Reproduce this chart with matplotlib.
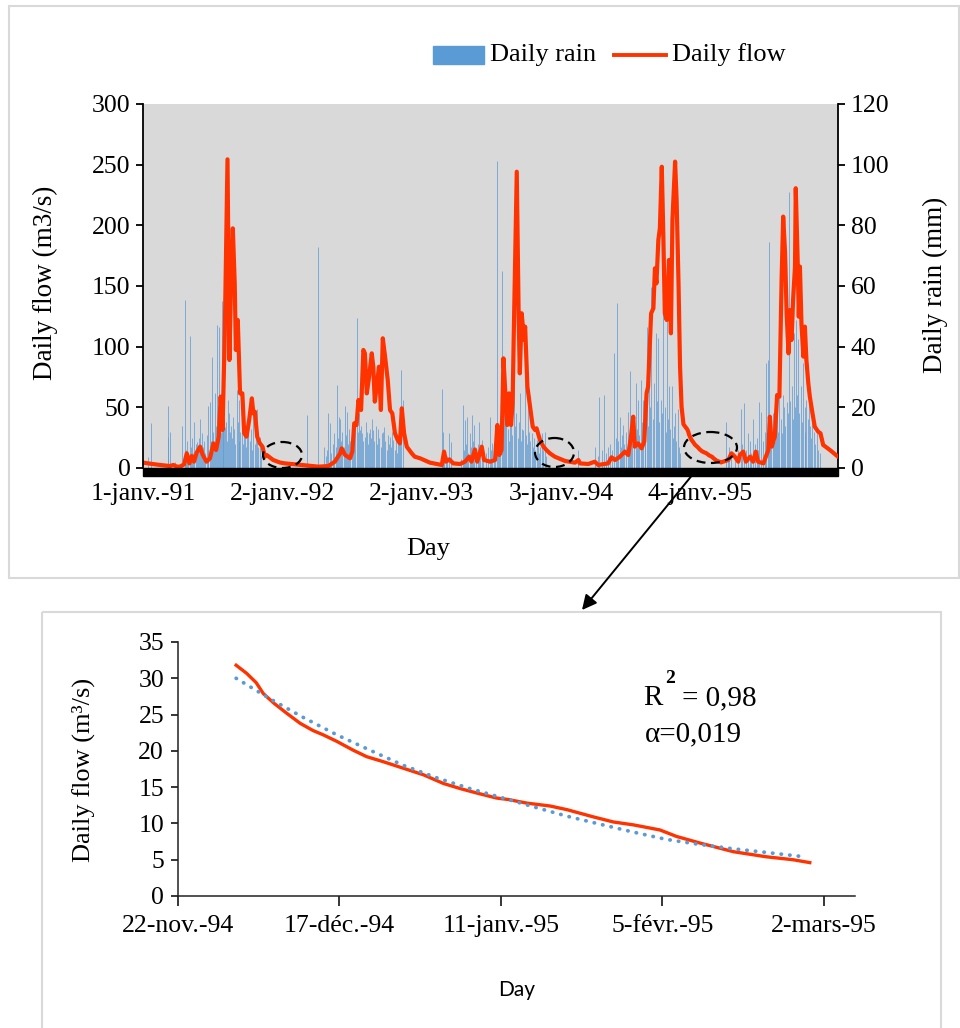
import matplotlib
matplotlib.use('Agg')
import matplotlib.pyplot as plt
from matplotlib.patches import Rectangle, Ellipse, FancyArrowPatch
from matplotlib.lines import Line2D
import matplotlib.transforms as mtransforms

# ---------------- data (top panel) ----------------
# day index counted from 1-janv.-91
flow_days_a = [0, 20, 45, 71, 80, 88, 97, 108, 115, 122, 128, 134, 141, 150, 157, 167, 176, 185, 192, 199,
               204, 209, 215, 222, 227, 231, 236, 241, 244, 249, 255, 261, 266, 272, 279, 286, 290, 294, 300,
               307, 314, 320, 325, 342, 360, 373, 417, 461, 487, 504, 518, 522, 531, 544, 550, 555, 561, 566,
               573, 579, 583, 588, 594, 601, 605, 609, 615, 620, 625, 630, 636, 643, 649, 655, 662, 669, 675,
               680, 686, 693, 706, 714, 728, 754, 785, 791, 796, 805, 815, 833, 846, 857, 863, 872, 878, 890,
               896, 912, 925, 931, 936, 942, 947, 953, 957, 962, 967, 971, 975, 982, 987, 990, 995, 1001, 1004,
               1010, 1017, 1024, 1030, 1034, 1043, 1052, 1060, 1069, 1082, 1109, 1135, 1144, 1148, 1170, 1187,
               1196, 1222, 1231, 1240, 1253, 1266, 1275, 1282, 1288, 1292, 1301, 1310, 1317, 1323, 1327, 1335,
               1341, 1345, 1349, 1354, 1358, 1363, 1367, 1371, 1376, 1382, 1387, 1391, 1398, 1402, 1407, 1411,
               1415, 1420]
flow_vals_a = [4.4, 3.5, 2.5, 1.6, 2.5, 1.2, 1.1, 3.0, 12.1, 3.8, 9.9, 5.2, 12.6, 17.6, 10.7, 5.2, 8.0, 20.3, 14.8, 25.8,
               58.8, 31.3, 113.7, 254.4, 89.0, 149.4, 197.5, 152.2, 97.3, 122.0, 61.5, 61.5, 28.6, 25.8, 39.6, 57.4, 45.0, 46.4, 25.8,
               20.3, 17.6, 9.3, 10.7, 6.6, 4.5, 3.8, 2.5, 1.1, 1.6, 5.2, 12.1, 16.2, 10.7, 8.0, 13.5, 36.8, 35.4, 56.0,
               47.8, 97.3, 94.5, 61.5, 75.2, 94.5, 83.5, 54.7, 69.8, 83.5, 47.8, 106.9, 91.8, 72.5, 47.8, 45.0, 28.6, 23.1, 20.3,
               49.2, 28.6, 17.6, 12.1, 9.3, 8.0, 4.4, 2.5, 13.5, 5.2, 7.1, 3.8, 3.3, 5.2, 9.3, 5.2, 15.3, 5.2, 17.6,
               6.6, 5.2, 6.6, 35.4, 10.7, 14.8, 90.4, 56.0, 35.4, 61.5, 35.4, 53.3, 124.7, 244.2, 124.7, 78.0, 127.5, 105.5, 116.5,
               67.0, 50.5, 34.0, 31.3, 32.7, 23.1, 17.6, 14.8, 12.1, 9.3, 5.8, 4.4, 6.6, 3.8, 3.3, 5.2,
               2.5, 3.8, 8.8, 6.6, 9.3, 13.5, 10.7, 25.8, 42.3, 17.6, 20.3, 16.2, 21.7, 61.5, 67.0, 127.5,
               131.6, 164.6, 152.2, 188.0, 197.5, 248.3, 193.3, 127.5, 122.0, 171.5, 111.0, 204.4, 252.5, 220.9, 152.2, 83.5,
               50.5, 36.0]
flow_days_b = [1524, 1538, 1546, 1555, 1564, 1568, 1577, 1584, 1595, 1603, 1610, 1616, 1630, 1643, 1647, 1652, 1660,
               1666, 1672, 1678, 1682, 1687, 1691, 1696, 1700, 1704, 1708, 1713, 1715, 1720, 1723, 1726, 1730, 1735,
               1739, 1743, 1748, 1752, 1759, 1765, 1774, 1780, 1787, 1805, 1826]
flow_vals_b = [5.2, 6.6, 12.1, 9.3, 5.2, 10.7, 13.5, 5.2, 9.3, 5.2, 13.5, 5.2, 3.8, 14.8, 42.3, 17.6, 25.8,
               60.1, 58.8, 157.7, 207.2, 177.0, 127.5, 94.5, 130.2, 105.5, 138.5, 166.0, 230.6, 171.5, 124.7, 166.0, 119.2, 91.8,
               116.5, 89.0, 69.8, 58.8, 45.0, 34.0, 29.9, 28.6, 19.0, 14.8, 9.3]

rain_days = [14, 21, 65, 66, 71, 84, 103, 111, 123, 128, 135, 141, 150, 155, 172, 176, 182, 189, 195, 199, 207, 211,
             215, 224, 237, 246, 253, 259, 268, 277, 290, 300, 307,
             113, 116, 119, 125, 131, 138, 144, 147, 153, 158, 161, 164, 167, 170, 179, 185, 187, 192, 197, 202, 205,
             209, 213, 218, 221, 226, 229, 232, 235, 240, 243, 249, 251, 256, 262, 265, 271, 274, 280, 283, 287, 293,
             296, 303, 310,
             430, 461, 476, 487, 491, 503, 510, 515, 518, 530, 535, 548, 561, 570, 576, 583, 594, 605, 618, 627, 634,
             649, 658, 673, 678, 682,
             480, 484, 495, 499, 506, 512, 521, 524, 527, 533, 538, 541, 544, 551, 554, 557, 564, 567, 573, 579, 586,
             589, 591, 597, 600, 602, 608, 611, 614, 621, 624, 630, 637, 640, 643, 646, 652, 655, 661, 664, 667, 670, 676,
             786, 787, 805, 810, 841, 846, 852, 859, 865, 870, 882, 890, 911, 918, 929, 942, 951, 955, 964, 974, 981,
             990, 999, 1003, 1012, 1021, 1034, 1047, 1056,
             790, 795, 800, 836, 844, 849, 855, 862, 868, 875, 879, 886, 894, 900, 906, 915, 922, 926, 933, 936, 939,
             945, 948, 958, 961, 967, 970, 977, 984, 987, 993, 996, 1006, 1009, 1015, 1018, 1025, 1028, 1031, 1038,
             1041, 1044, 1051, 1060,
             1144, 1187, 1199, 1212, 1222, 1238, 1246, 1253, 1262, 1273, 1280, 1286, 1294, 1301, 1308, 1314, 1323,
             1329, 1336, 1343, 1347, 1354, 1361, 1367, 1376, 1382, 1389, 1398, 1405,
             1195, 1205, 1216, 1228, 1233, 1242, 1249, 1256, 1259, 1265, 1269, 1276, 1283, 1290, 1297, 1304, 1311,
             1318, 1320, 1326, 1332, 1339, 1350, 1357, 1364, 1371, 1373, 1379, 1385, 1392, 1395, 1401, 1408, 1412,
             1533, 1540, 1570, 1580, 1590, 1603, 1619, 1625, 1637, 1641, 1645, 1654, 1663, 1672, 1678, 1682, 1691,
             1698, 1704, 1710, 1715, 1721, 1728, 1735, 1743, 1750, 1759, 1770, 1778,
             1536, 1545, 1555, 1562, 1575, 1585, 1595, 1598, 1608, 1612, 1615, 1630, 1633, 1648, 1651, 1657, 1660,
             1666, 1669, 1675, 1685, 1688, 1694, 1701, 1707, 1712, 1718, 1724, 1731, 1738, 1740, 1746, 1753, 1756,
             1762, 1765, 1773]
rain_mm = [3.7, 14.7, 20.4, 10.3, 11.9, 2.0, 13.8, 55.4, 43.6, 9.8, 15.2, 8.7, 16.0, 11.4, 20.4, 21.9, 36.5, 24.6, 47.3,
           46.6, 55.1, 23.5, 13.6, 22.4, 16.9, 25.7, 22.4, 18.5, 10.3, 11.4, 19.1, 19.6, 10.3,
           6, 9, 4, 7, 5, 8, 6, 10, 4, 7, 9, 5, 11, 6, 9, 12, 8, 14, 10, 18, 12,
           16, 20, 15, 9, 18, 12, 14, 10, 13, 8, 15, 9, 12, 8, 14, 7, 10, 9, 13, 6, 8,
           11, 7, 4,
           17.4, 73.0, 7.0, 18.0, 14.7, 11.4, 27.3, 16.9, 16.3, 20.4, 18.5, 11.4, 49.3, 12.5, 11.4, 10.3, 11.4, 12.5,
           13.0, 11.4, 13.6, 10.3, 9.2, 15.8, 32.3, 22.4,
           4, 6, 5, 8, 7, 10, 9, 12, 7, 11, 8, 13, 9, 14, 10, 16, 12, 18, 14, 9, 15,
           12, 8, 13, 10, 16, 9, 14, 8, 10, 7, 12, 9, 6, 11, 8, 7, 12, 6, 9, 5, 8, 10,
           25.9, 11.9, 11.4, 8.7, 20.8, 15.8, 16.9, 11.4, 17.4, 14.1, 15.2, 9.2, 16.9, 8.1, 101.2, 65.0, 15.8, 20.2,
           22.4, 31.2, 18.0, 24.6, 12.5, 31.8, 22.4, 11.4, 9.2, 11.4, 11.9,
           5, 3, 4, 3, 6, 8, 5, 7, 9, 5, 8, 6, 4, 5, 7, 6, 5, 9, 14, 10, 17,
           12, 19, 13, 9, 16, 11, 14, 10, 15, 9, 13, 11, 8, 12, 9, 7, 10, 6, 8,
           5, 7, 6, 4,
           5.9, 7.0, 23.5, 24.1, 7.0, 37.8, 54.5, 16.9, 14.1, 18.5, 32.0, 13.6, 28.0, 22.4, 29.1, 22.4, 46.6,
           33.4, 59.8, 28.0, 44.4, 42.8, 22.4, 53.7, 51.0, 26.9, 26.9, 18.0, 19.6,
           4, 6, 5, 8, 6, 10, 9, 7, 11, 8, 12, 9, 14, 10, 13, 11, 15,
           12, 18, 14, 20, 16, 22, 15, 18, 20, 12, 16, 13, 10, 14, 9, 7, 5,
           15.2, 7.0, 19.6, 21.5, 11.4, 16.3, 21.9, 18.5, 34.5, 35.6, 74.6, 18.0, 21.3, 52.6, 11.4, 24.1, 21.9,
           91.1, 26.9, 44.4, 48.8, 42.4, 26.9, 34.5, 22.4, 27.4, 19.6, 11.4, 4.8,
           4, 5, 3, 6, 8, 6, 9, 5, 8, 10, 6, 9, 12, 15, 10, 14, 9,
           18, 12, 16, 20, 14, 18, 22, 16, 20, 24, 18, 15, 20, 12, 16, 14, 10,
           12, 8, 6]

top_tick_days = [0, 366, 732, 1098, 1464]
top_tick_labels = ['1-janv.-91', '2-janv.-92', '2-janv.-93', '3-janv.-94', '4-janv.-95']

# ---------------- data (bottom panel: recession) ----------------
# days counted from 22-nov.-94 (day 1421 of the top series)
rec_start = 1421
rec_days = [9.0, 10.6, 12.1, 13.2, 14.8, 16.8, 18.9, 20.9, 22.5, 24.6, 27.1, 29.2, 31.8, 34.9, 38.0, 41.1, 43.7,
            46.2, 49.3, 51.1, 54.0, 57.6, 60.2, 64.3, 67.4, 70.5, 74.6, 77.2, 80.8, 86.0, 91.1, 95.2, 97.8]
rec_flow = [31.8, 30.7, 29.4, 27.9, 26.6, 25.2, 23.8, 22.8, 22.2, 21.3, 20.1, 19.2, 18.5, 17.6, 16.7, 15.5, 14.8,
            14.2, 13.5, 13.3, 12.8, 12.4, 11.9, 10.9, 10.2, 9.8, 9.1, 8.2, 7.3, 6.1, 5.4, 5.0, 4.6]
fit_days = [9.0, 14.2, 19.4, 24.6, 29.7, 34.9, 40.0, 45.2, 51.1, 55.0, 60.2, 65.3, 70.5, 75.6, 80.8, 86.0, 91.1, 97.0]
fit_flow = [30.0, 27.2, 24.6, 22.2, 20.1, 18.0, 16.3, 14.8, 13.3, 12.3, 11.0, 9.9, 8.8, 7.8, 7.1, 6.5, 6.0, 5.4]
bot_tick_days = [0, 25, 50, 75, 100]
bot_tick_labels = ['22-nov.-94', '17-déc.-94', '11-janv.-95', '5-févr.-95', '2-mars-95']

# ---------------- figure ----------------
W, H = 960, 1028
SERIF = 'Liberation Serif'
plt.rcParams['font.family'] = SERIF
fig = plt.figure(figsize=(W / 100, H / 100), dpi=100)
px = mtransforms.Affine2D().scale(1 / W, -1 / H).translate(0, 1) + fig.transFigure

RED = '#ff3300'
BLUE = '#5b9bd5'

# outer frames
fig.add_artist(Rectangle((9, 6), 950, 572, transform=px, fill=False, edgecolor='#d9d9d9', lw=1.5))
fig.add_artist(Rectangle((42, 612), 899, 420, transform=px, fill=False, edgecolor='#d9d9d9', lw=1.5))

# ---------- top panel ----------
L, R, T, B = 143, 838, 104, 468
ax = fig.add_axes([L / W, 1 - B / H, (R - L) / W, (B - T) / H])
ax2 = ax.twinx()
ax.set_zorder(2)
ax2.set_zorder(1)
ax.patch.set_visible(False)
ax2.patch.set_visible(True)
ax2.patch.set_facecolor('#d9d9d9')

ax2.vlines(rain_days, 0, rain_mm, colors=BLUE, lw=0.7, alpha=0.75)
flow_days = flow_days_a + [rec_start + d for d in rec_days] + flow_days_b
flow_vals = flow_vals_a + rec_flow + flow_vals_b
ax.plot(flow_days, flow_vals, color=RED, lw=3.0, solid_joinstyle='round', solid_capstyle='round')

ax.set_xlim(0, 1826)
ax.set_ylim(0, 300)
ax2.set_ylim(0, 120)
ax.set_yticks(range(0, 301, 50))
ax2.set_yticks(range(0, 121, 20))
ax.set_xticks(top_tick_days)
ax.set_xticklabels(top_tick_labels)
for a in (ax, ax2):
    for s in ('top', 'bottom'):
        a.spines[s].set_visible(False)
ax.spines['right'].set_visible(False)
ax2.spines['left'].set_visible(False)
ax.spines['left'].set_linewidth(1.3)
ax2.spines['right'].set_linewidth(1.3)
ax.tick_params(axis='y', direction='out', length=5, width=1.3, labelsize=18.5, pad=4)
ax2.tick_params(axis='y', direction='out', length=5, width=1.3, labelsize=18.5, pad=4)
ax.tick_params(axis='x', length=0, labelsize=18.5, pad=10.5)
ax.add_patch(Rectangle((0, -8 / 364), 1, 8 / 364, transform=ax.transAxes, color='black',
                       clip_on=False, zorder=5))

fig.text(45 / W, 1 - 283 / H, 'Daily flow (m3/s)', rotation=90, ha='center', va='center', fontsize=19.5)
fig.text(935 / W, 1 - 285 / H, 'Daily rain (mm)', rotation=90, ha='center', va='center', fontsize=19.5)
fig.text(428 / W, 1 - 549 / H, 'Day', ha='center', va='center', fontsize=19)

# legend
fig.add_artist(Rectangle((433, 46), 51, 18, transform=px, color=BLUE))
fig.add_artist(Line2D([614, 666], [55, 55], transform=px, color=RED, lw=2.8))
fig.text(490 / W, 1 - 55 / H, 'Daily rain', ha='left', va='center', fontsize=19)
fig.text(672 / W, 1 - 55 / H, 'Daily flow', ha='left', va='center', fontsize=19)

# dashed ellipses
for (cx, cy, w, h) in [(282.5, 455, 39, 26), (554.5, 452.5, 39, 29), (710.5, 447.5, 53, 31)]:
    fig.add_artist(Ellipse((cx, cy), w, h, transform=px, fill=False, edgecolor='black', lw=1.6,
                           linestyle=(0, (4, 2.5)), zorder=10))

# arrow
fig.add_artist(FancyArrowPatch((698, 468), (582, 610), transform=px, arrowstyle='-|>',
                               mutation_scale=22, lw=1.4, color='black', shrinkA=0, shrinkB=0))

# ---------- bottom panel ----------
L2, R2, T2, B2 = 178, 855, 642, 896
bx = fig.add_axes([L2 / W, 1 - B2 / H, (R2 - L2) / W, (B2 - T2) / H])
bx.plot(rec_days, rec_flow, color=RED, lw=2.4, solid_joinstyle='round')
bx.plot(fit_days, fit_flow, color=BLUE, lw=2.7, linestyle=(0, (0.1, 2.2)), dash_capstyle='round')
bx.set_xlim(0, 104.8)
bx.set_ylim(0, 35)
bx.set_yticks(range(0, 36, 5))
bx.set_xticks(bot_tick_days)
bx.set_xticklabels(bot_tick_labels)
for s in ('top', 'right'):
    bx.spines[s].set_visible(False)
for s in ('left', 'bottom'):
    bx.spines[s].set_linewidth(1.1)
    bx.spines[s].set_color('#222222')
bx.tick_params(axis='y', direction='out', length=5, width=1.1, labelsize=18.5, pad=5)
bx.tick_params(axis='x', direction='out', length=7, width=1.1, labelsize=18.5, pad=7)

fig.text(83 / W, 1 - 770 / H, 'Daily flow (m³/s)', rotation=90, ha='center', va='center', fontsize=19)
fig.text(517 / W, 1 - 990 / H, 'Day', ha='center', va='center', fontsize=15, family='Lato')

fig.text(643 / W, 1 - 705 / H, 'R', ha='left', va='baseline', fontsize=21)
fig.text(665 / W, 1 - 683 / H, '2', ha='left', va='baseline', fontsize=14, fontweight='bold')
fig.text(682 / W, 1 - 705 / H, '= 0,98', ha='left', va='baseline', fontsize=21)
fig.text(645 / W, 1 - 741 / H, 'α=0,019', ha='left', va='baseline', fontsize=21)

fig.savefig('out.png', dpi=100, facecolor='white')
